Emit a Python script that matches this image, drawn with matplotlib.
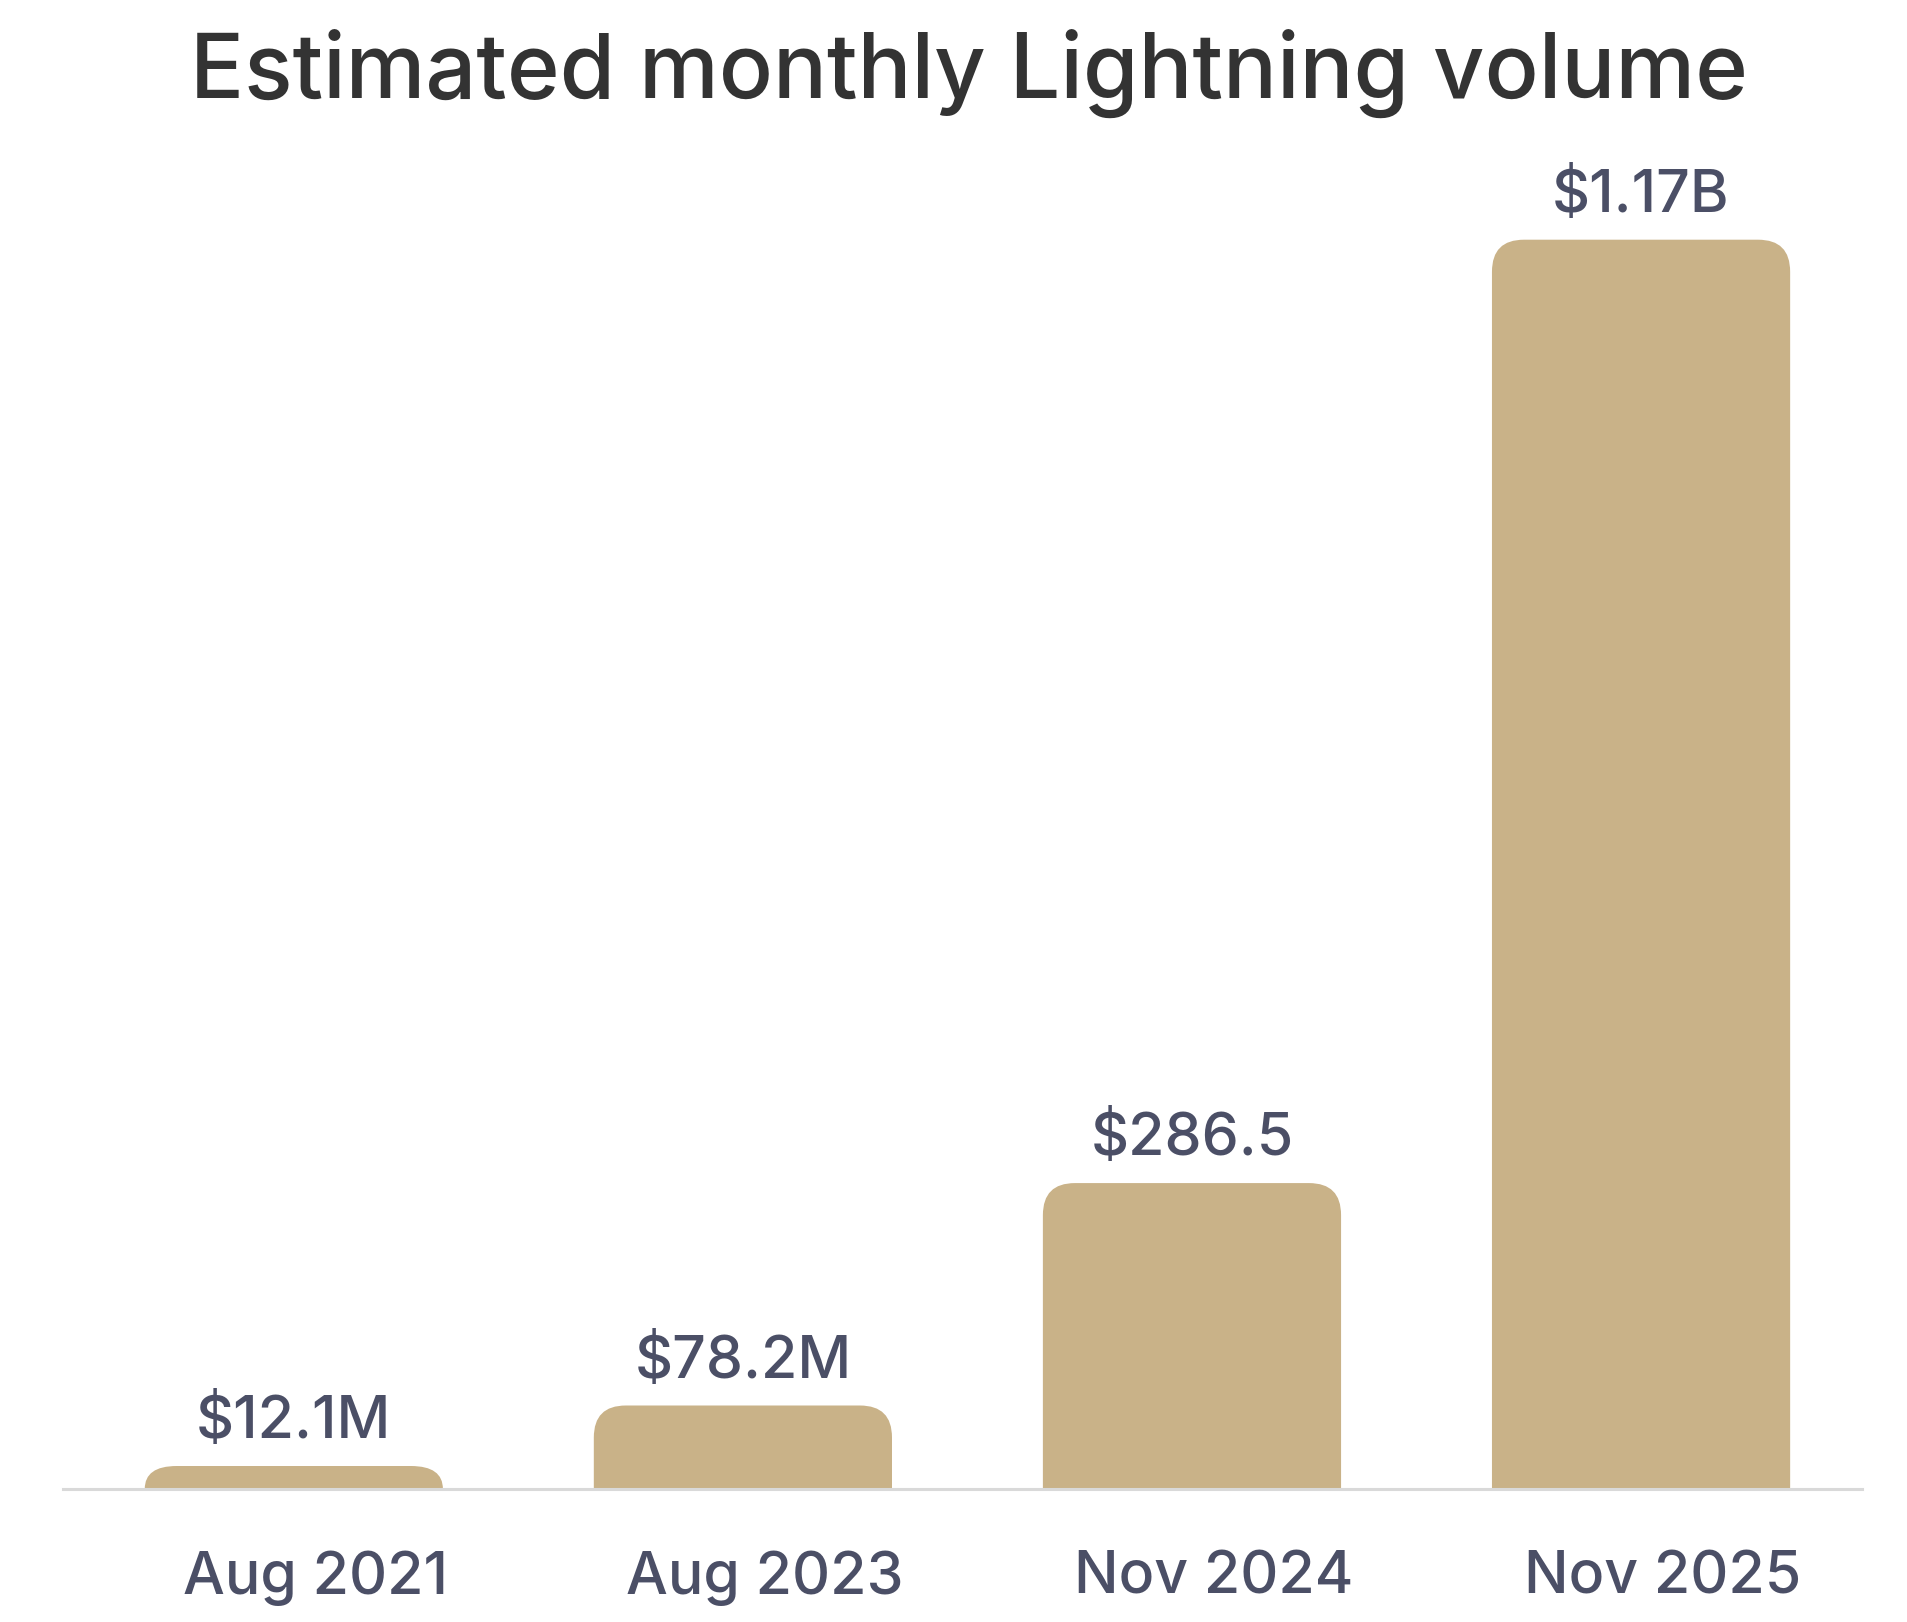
import matplotlib
matplotlib.use("Agg")
import matplotlib.pyplot as plt
from matplotlib.path import Path
from matplotlib.patches import PathPatch
from matplotlib.transforms import ScaledTranslation

# ---- data ----
categories = ["Aug 2021", "Aug 2023", "Nov 2024", "Nov 2025"]
values_musd = [12.1, 78.2, 286.5, 1170.0]
value_labels = ["$12.1M", "$78.2M", "$286.5", "$1.17B"]
title = "Estimated monthly Lightning volume"

# ---- style ----
plt.rcParams['font.family'] = ['Inter', 'DejaVu Sans']
BAR_COLOR = "#C9B288"
TEXT_COLOR = "#4B4F66"
TITLE_COLOR = "#333333"
AXIS_COLOR = "#D9D9D9"

W, H = 1908, 1622
fig = plt.figure(figsize=(W / 100, H / 100), dpi=100)
fig.patch.set_facecolor("white")

ax_left, ax_right = 63, 1862
ax_bottom_px, ax_top_px = 1489, 150
ax = fig.add_axes([ax_left / W, (H - ax_bottom_px) / H,
                   (ax_right - ax_left) / W, (ax_bottom_px - ax_top_px) / H])
ymax = 1254
ax.set_xlim(-0.514, len(categories) - 0.508)
ax.set_ylim(0, ymax)

px_per_x = (ax_right - ax_left) / (len(categories) + 0.006)
px_per_y = (ax_bottom_px - ax_top_px) / ymax
bar_w = 0.664
radius_px = 32
min_bar_px = 23  # minimum drawn bar length (like Chart.js minBarLength)

for i, v in enumerate(values_musd):
    h = max(v, min_bar_px / px_per_y)
    x0, x1 = i - bar_w / 2, i + bar_w / 2
    rx = radius_px / px_per_x
    ry = min(radius_px / px_per_y, h)
    verts = [(x0, 0), (x1, 0), (x1, h - ry), (x1, h), (x1 - rx, h),
             (x0 + rx, h), (x0, h), (x0, h - ry), (x0, 0)]
    codes = [Path.MOVETO, Path.LINETO, Path.LINETO, Path.CURVE3, Path.CURVE3,
             Path.LINETO, Path.CURVE3, Path.CURVE3, Path.CLOSEPOLY]
    ax.add_patch(PathPatch(Path(verts, codes), facecolor=BAR_COLOR,
                           edgecolor="none", zorder=2))
    ax.annotate(value_labels[i], xy=(i, h), xytext=(0, 20),
                textcoords="offset points", ha="center", va="baseline",
                fontsize=42.5, fontweight="medium", color=TEXT_COLOR, zorder=3)

ax.set_xticks(range(len(categories)))
ax.set_xticklabels(categories, fontsize=42.5, fontweight="medium", color=TEXT_COLOR)
ax.tick_params(axis="x", length=0, pad=44)
shift = ScaledTranslation(22 / 100, 0, fig.dpi_scale_trans)
for lab in ax.get_xticklabels():
    lab.set_transform(lab.get_transform() + shift)
ax.set_yticks([])
for s in ["top", "right", "left"]:
    ax.spines[s].set_visible(False)
ax.spines["bottom"].set_color(AXIS_COLOR)
ax.spines["bottom"].set_linewidth(2.2)
ax.spines["bottom"].set_zorder(3)
ax.set_facecolor("none")

fig.text(((ax_left + ax_right) / 2 + 6) / W, 1 - 98 / H, title, ha="center",
         va="baseline", fontsize=64.6, fontweight="medium", color=TITLE_COLOR)

fig.savefig("out.png", dpi=100, facecolor="white")
